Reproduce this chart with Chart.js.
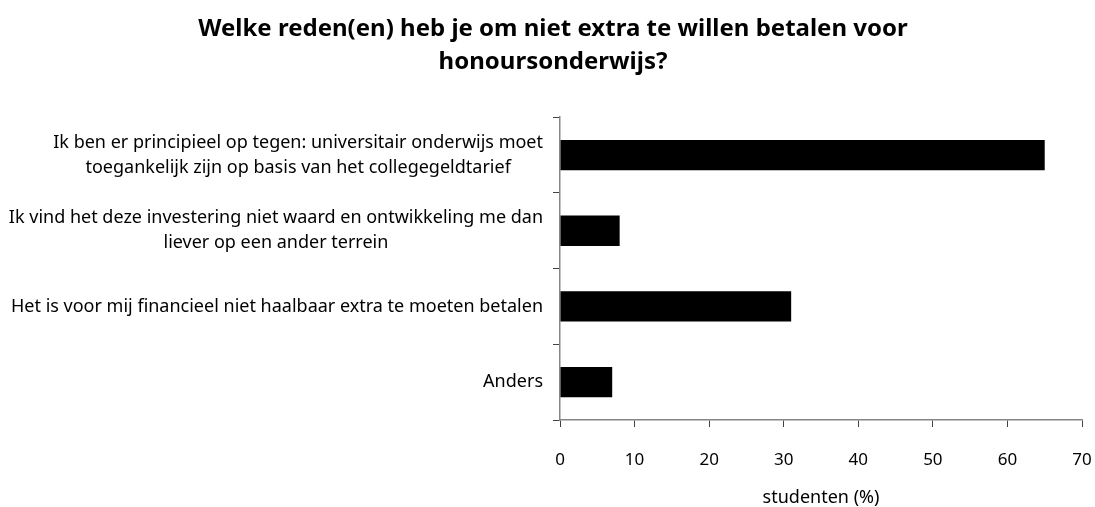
<!DOCTYPE html>
<html>
<head>
<meta charset="utf-8">
<script src="https://cdn.jsdelivr.net/npm/chart.js@4"></script>
<style>
  html, body { margin: 0; padding: 0; background: #fff; }
  #wrap { width: 1095px; height: 507px; }
</style>
</head>
<body>
<div id="wrap"><canvas id="chart" width="1095" height="507"></canvas></div>
<script>
const categories = [
  ['Ik ben er principieel op tegen: universitair onderwijs moet', 'toegankelijk zijn op basis van het collegegeldtarief'],
  ['Ik vind het deze investering niet waard en ontwikkeling me dan', 'liever op een ander terrein'],
  ['Het is voor mij financieel niet haalbaar extra te moeten betalen'],
  ['Anders'],
];
const percentages = [65, 8, 31, 7];
const chartTitle = ['Welke reden(en) heb je om niet extra te willen betalen voor', 'honoursonderwijs?'];
const axisTitle = 'studenten (%)';

const labelFont = '18px "Noto Sans"';

// draws the category labels Excel-style: block right aligned, lines centred inside it
const yLabels = {
  id: 'yLabels',
  afterDraw(chart) {
    const { ctx } = chart;
    const y = chart.scales.y;
    ctx.save();
    ctx.font = labelFont;
    ctx.fillStyle = '#000';
    ctx.textAlign = 'center';
    ctx.textBaseline = 'middle';
    const right = 543;
    const lineH = 25;
    categories.forEach((lines, i) => {
      const widest = Math.max(...lines.map((l) => ctx.measureText(l).width));
      const cx = right - widest / 2;
      const cy = y.getPixelForValue(i);
      lines.forEach((l, j) => {
        ctx.fillText(l, cx, cy + (j - (lines.length - 1) / 2) * lineH);
      });
    });
    ctx.restore();
  },
};

new Chart(document.getElementById('chart'), {
  type: 'bar',
  data: {
    labels: categories,
    datasets: [{
      data: percentages,
      backgroundColor: '#000',
      borderWidth: 0,
      categoryPercentage: 1,
      barPercentage: 0.4,
    }],
  },
  options: {
    indexAxis: 'y',
    responsive: false,
    animation: false,
    layout: { padding: { left: 24, right: 13, top: 0, bottom: 0 } },
    plugins: {
      legend: { display: false },
      tooltip: { enabled: false },
      title: {
        display: true,
        text: chartTitle,
        color: '#000',
        font: { family: '"Noto Sans"', size: 24, weight: 'bold', lineHeight: 1.4 },
        padding: { top: 12, bottom: 38 },
      },
    },
    scales: {
      x: {
        min: 0,
        max: 70,
        afterFit: (s) => { s.height = 87; s.paddingLeft = 0; s.paddingRight = 0; },
        border: { color: '#868686', width: 1.5 },
        grid: { drawOnChartArea: false, tickLength: 7, tickColor: '#444' },
        ticks: { stepSize: 10, color: '#000', padding: 23, maxRotation: 0, font: { family: '"Noto Sans"', size: 17 } },
        title: {
          display: true,
          text: axisTitle,
          color: '#000',
          font: { family: '"Noto Sans"', size: 18 },
          padding: { top: 0, bottom: -2 },
        },
      },
      y: {
        afterFit: (s) => { s.width = 536; },
        border: { color: '#868686', width: 1.5 },
        grid: { drawOnChartArea: false, tickLength: 7, tickColor: '#444', offset: true },
        ticks: { display: false },
      },
    },
  },
  plugins: [yLabels],
});
</script>
</body>
</html>
